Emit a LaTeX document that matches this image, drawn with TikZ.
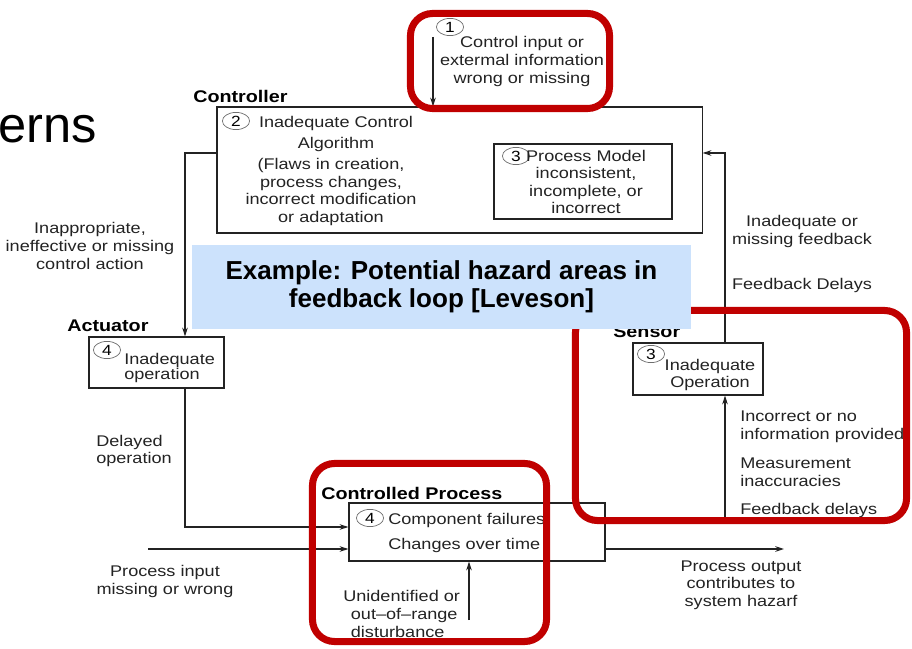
\documentclass[tikz,border=0pt]{standalone}
\usepackage{fontspec}
\setmainfont{Liberation Sans}
\newfontfamily\figfont[FakeStretch=1.17]{Liberation Sans}
\usetikzlibrary{shapes.geometric, arrows.meta, positioning, calc}
\definecolor{hazardred}{RGB}{192, 0, 0}
\definecolor{notefill}{RGB}{204, 226, 252}
\definecolor{inkgray}{RGB}{35, 35, 35}
\definecolor{ringgray}{RGB}{110, 110, 110}

\begin{document}
\begin{tikzpicture}[
  x=0.025cm, y=-0.025cm,
  block/.style={draw=inkgray, line width=0.8pt, inner sep=0pt},
  txt/.style={font=\figfont\fontsize{11}{12.5}\selectfont, text=inkgray, align=center, inner sep=0pt},
  txtl/.style={txt, align=left},
  title/.style={font=\figfont\fontsize{12}{14}\selectfont\bfseries, text=black, inner sep=0pt, anchor=west},
  num/.style={ellipse, draw=ringgray, line width=0.5pt, minimum width=0.68cm, minimum height=0.43cm, inner sep=0pt, font=\figfont\fontsize{10.5}{12}\selectfont},
  hazard/.style={draw=hazardred, line width=5pt, rounded corners=0.55cm, inner sep=0pt},
  note/.style={fill=notefill, inner sep=0pt, align=center, font=\fontsize{18.5}{20}\selectfont\bfseries},
  arrow/.style={-{Stealth[length=2.2mm, width=1.4mm]}, line width=0.8pt, inkgray}
]
\useasboundingbox[fill=white] (0,0) rectangle (912,649);

% slide title fragment
\node[anchor=base east, inner sep=0pt, font=\fontsize{36}{40}\selectfont] (slidetitle) at (97,143) {erns};

% Controller
\node[block, minimum width=12.125cm, minimum height=3.15cm] (ctrl) at (459.5,170) {};
\node[title] (ctrlTitle) at (193,96) {Controller};
\node[num] (n2) at (236,121) {2};
\node[txt] (algo) at (336,134) {Inadequate Control\\[3pt]Algorithm};
\node[txt] (flaws) at (331,192) {(Flaws in creation,\\process changes,\\incorrect modification\\or adaptation};

\node[block, minimum width=4.45cm, minimum height=1.875cm] (pmodel) at (583,181.5) {};
\node[num] (n3m) at (516,156) {3};
\node[txt] (pmText) at (586,182) {Process Model\\inconsistent,\\incomplete, or\\incorrect};

% external input
\node[num] (n1) at (450,27) {1};
\node[txt] (extIn) at (522,61.5) {Control input or\\extermal information\\wrong or missing};
\coordinate (ctrlIn) at (433,37);
\draw[arrow] (ctrlIn) -- (ctrlIn |- ctrl.north);

% Actuator
\node[block, minimum width=3.375cm, minimum height=1.275cm] (act) at (156.5,362.5) {};
\node[title] (actTitle) at (67,326) {Actuator};
\node[num] (n4a) at (107,350) {4};
\node[txtl, font=\figfont\fontsize{11}{10.5}\selectfont] (actText) at (124,368) [anchor=west] {Inadequate\\operation};
\node[txt] (ctrlAction) at (90,246) {Inappropriate,\\ineffective or missing\\control action};
\node[txtl, anchor=west] (delay) at (96,451) {Delayed\\operation};

\draw[arrow] ([yshift=0.425cm]ctrl.west) -| ([xshift=0.7125cm]act.north);

% Controlled Process
\node[block, minimum width=6.4cm, minimum height=1.45cm] (proc) at (477,532) {};
\node[title] (procTitle) at (321,493) {Controlled Process};
\node[num] (n4p) at (370,518) {4};
\node[txtl, anchor=west] (procText) at (388,533) {Component failures\\[5pt]Changes over time};

\draw[arrow] ([xshift=0.7125cm]act.south) |- ([yshift=0.125cm]proc.west);

\coordinate (procIn) at (148,549);
\draw[arrow] (procIn) -- (procIn -| proc.west);
\node[txt] (procInText) at (165,581.5) {Process input\\missing or wrong};

\coordinate (dist) at (469,620);
\draw[arrow] (dist) -- (dist |- proc.south);
\node[txtl, anchor=west] (distText) at (343,614) {Unidentified or\\\ \,out–of–range\\\ \,disturbance};

\coordinate (procOut) at (784,549);
\draw[arrow] (proc.east |- procOut) -- (procOut);
\node[txt] (procOutText) at (741,585) {Process output\\contributes to\\system hazarf};

% Sensor
\node[block, minimum width=3.25cm, minimum height=1.3cm] (sens) at (698,369) {};
\node[num] (n3s) at (651,354) {3};
\node[txt] (sensText) at (710,375) {Inadequate\\Operation};

\coordinate (sensIn) at (725,521);
\draw[arrow] (sensIn) -- (sensIn |- sens.south);
\draw[arrow] (sens.north -| sensIn) |- ([yshift=0.425cm]ctrl.east);

\node[txt] (fbMissing) at (802,231.5) {Inadequate or\\missing feedback};
\node[txt] (fbDelay) at (802,286) {Feedback Delays};
\node[txtl, anchor=west] (sensWrong) at (740,427) {Incorrect or no\\information provided};
\node[txtl, anchor=west] (sensAcc) at (740,472.5) {Measurement\\inaccuracies};
\node[txtl, anchor=west] (sensDelay) at (740,510) {Feedback delays};

% hazard areas
\node[hazard, minimum width=4.975cm, minimum height=2.375cm] (hz1) at (510,61) {};
\node[hazard, minimum width=8.275cm, minimum height=5.25cm] (hz2) at (741,415.5) {};
\node[hazard, minimum width=5.85cm, minimum height=4.45cm] (hz3) at (429.5,552.5) {};

\node[title] (sensTitle) at (613,332) {Sensor};

% note
\node[note, minimum width=12.475cm, minimum height=2.1cm] (example) at (441.5,287) {Example: Potential hazard areas in\\feedback loop [Leveson]};

\end{tikzpicture}
\end{document}
